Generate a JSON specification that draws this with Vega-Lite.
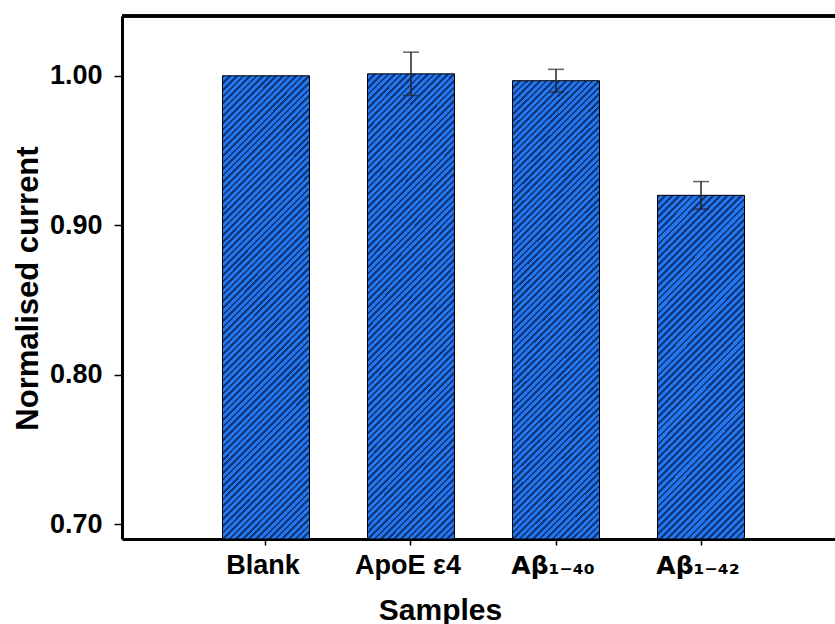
{
  "$schema": "https://vega.github.io/schema/vega-lite/v6.json",
  "width": 713,
  "height": 523,
  "autosize": {"type": "none"},
  "padding": {"left": 122, "top": 16, "right": 0, "bottom": 85},
  "config": {
    "font": "Liberation Sans",
    "view": {"stroke": null},
    "axis": {"grid": false},
    "axisRight": {"domainOpacity": 0, "tickOpacity": 0, "labelOpacity": 0, "titleOpacity": 0, "domain": false, "ticks": false, "labels": false}
  },
  "data": {"values": [
    {"sample": "Blank", "mean": 1.0, "err": 0},
    {"sample": "ApoE ε4", "mean": 1.0013, "err": 0.0145},
    {"sample": "Aβ₁₋₄₀", "mean": 0.9967, "err": 0.0076},
    {"sample": "Aβ₁₋₄₂", "mean": 0.92, "err": 0.0092}
  ]},
  "encoding": {
    "x": {
      "field": "sample", "type": "nominal", "sort": null,
      "scale": {"domain": ["Blank", "ApoE ε4", "Aβ₁₋₄₀", "Aβ₁₋₄₂"], "range": [0, 723], "paddingInner": 0.4, "paddingOuter": 0.693},
      "axis": {
        "domainWidth": 3, "domainColor": "black", "tickColor": "black", "tickWidth": 1.5, "tickSize": 6,
        "labelAngle": 0, "labelFontWeight": "bold", "labelColor": "black",
        "labelFont": {"condition": {"test": "indexof(datum.label, 'β') >= 0", "value": "DejaVu Sans"}, "value": "Liberation Sans"},
        "labelFontSize": {"condition": {"test": "indexof(datum.label, 'β') >= 0", "value": 25}, "value": 27},
        "labelBaseline": "alphabetic", "labelPadding": 28, "labelOffset": -3,
        "title": "Samples", "titleFontSize": 30, "titleFontWeight": "bold", "titleColor": "black",
        "titleX": 318, "titleY": 80, "titleBaseline": "alphabetic"
      }
    },
    "y": {
      "field": "mean", "type": "quantitative",
      "scale": {"domain": [0.69, 1.04], "nice": false, "zero": false},
      "axis": {
        "orient": "left",
        "values": [0.7, 0.8, 0.9, 1.0], "format": ".2f",
        "domainWidth": 3, "domainColor": "black", "tickColor": "black", "tickWidth": 1.5, "tickSize": 8,
        "labelFontSize": 27, "labelFontWeight": "bold", "labelColor": "black", "labelPadding": 12,
        "title": "Normalised current", "titleFontSize": 31, "titleFontWeight": "bold", "titleColor": "black",
        "titleX": -85, "titleY": 272, "titleBaseline": "alphabetic", "titleAngle": -90, "titleAlign": "center"
      }
    }
  },
  "layer": [
    {
      "transform": [{"filter": "datum.sample !== 'Aβ₁₋₄₂'"}],
      "mark": {"type": "bar", "stroke": "black", "strokeWidth": 1,
        "fill": {"gradient": "linear", "x1": 0, "y1": 0, "x2": 0.2161, "y2": 1.1476, "stops": [
{"offset":0,"color":"#137"},{"offset":0.0048,"color":"#137"},{"offset":0.0048,"color":"#27e"},{"offset":0.012,"color":"#27e"},
{"offset":0.012,"color":"#137"},{"offset":0.0168,"color":"#137"},{"offset":0.0168,"color":"#27e"},{"offset":0.024,"color":"#27e"},
{"offset":0.024,"color":"#137"},{"offset":0.0288,"color":"#137"},{"offset":0.0288,"color":"#27e"},{"offset":0.036,"color":"#27e"},
{"offset":0.036,"color":"#137"},{"offset":0.0408,"color":"#137"},{"offset":0.0408,"color":"#27e"},{"offset":0.048,"color":"#27e"},
{"offset":0.048,"color":"#137"},{"offset":0.0528,"color":"#137"},{"offset":0.0528,"color":"#27e"},{"offset":0.06,"color":"#27e"},
{"offset":0.06,"color":"#137"},{"offset":0.0648,"color":"#137"},{"offset":0.0648,"color":"#27e"},{"offset":0.072,"color":"#27e"},
{"offset":0.072,"color":"#137"},{"offset":0.0768,"color":"#137"},{"offset":0.0768,"color":"#27e"},{"offset":0.084,"color":"#27e"},
{"offset":0.084,"color":"#137"},{"offset":0.0888,"color":"#137"},{"offset":0.0888,"color":"#27e"},{"offset":0.096,"color":"#27e"},
{"offset":0.096,"color":"#137"},{"offset":0.1008,"color":"#137"},{"offset":0.1008,"color":"#27e"},{"offset":0.108,"color":"#27e"},
{"offset":0.108,"color":"#137"},{"offset":0.1128,"color":"#137"},{"offset":0.1128,"color":"#27e"},{"offset":0.12,"color":"#27e"},
{"offset":0.12,"color":"#137"},{"offset":0.1248,"color":"#137"},{"offset":0.1248,"color":"#27e"},{"offset":0.132,"color":"#27e"},
{"offset":0.132,"color":"#137"},{"offset":0.1368,"color":"#137"},{"offset":0.1368,"color":"#27e"},{"offset":0.144,"color":"#27e"},
{"offset":0.144,"color":"#137"},{"offset":0.1488,"color":"#137"},{"offset":0.1488,"color":"#27e"},{"offset":0.156,"color":"#27e"},
{"offset":0.156,"color":"#137"},{"offset":0.1608,"color":"#137"},{"offset":0.1608,"color":"#27e"},{"offset":0.168,"color":"#27e"},
{"offset":0.168,"color":"#137"},{"offset":0.1728,"color":"#137"},{"offset":0.1728,"color":"#27e"},{"offset":0.18,"color":"#27e"},
{"offset":0.18,"color":"#137"},{"offset":0.1848,"color":"#137"},{"offset":0.1848,"color":"#27e"},{"offset":0.192,"color":"#27e"},
{"offset":0.192,"color":"#137"},{"offset":0.1968,"color":"#137"},{"offset":0.1968,"color":"#27e"},{"offset":0.204,"color":"#27e"},
{"offset":0.204,"color":"#137"},{"offset":0.2088,"color":"#137"},{"offset":0.2088,"color":"#27e"},{"offset":0.216,"color":"#27e"},
{"offset":0.216,"color":"#137"},{"offset":0.2208,"color":"#137"},{"offset":0.2208,"color":"#27e"},{"offset":0.228,"color":"#27e"},
{"offset":0.228,"color":"#137"},{"offset":0.2328,"color":"#137"},{"offset":0.2328,"color":"#27e"},{"offset":0.24,"color":"#27e"},
{"offset":0.24,"color":"#137"},{"offset":0.2448,"color":"#137"},{"offset":0.2448,"color":"#27e"},{"offset":0.252,"color":"#27e"},
{"offset":0.252,"color":"#137"},{"offset":0.2568,"color":"#137"},{"offset":0.2568,"color":"#27e"},{"offset":0.264,"color":"#27e"},
{"offset":0.264,"color":"#137"},{"offset":0.2688,"color":"#137"},{"offset":0.2688,"color":"#27e"},{"offset":0.276,"color":"#27e"},
{"offset":0.276,"color":"#137"},{"offset":0.2808,"color":"#137"},{"offset":0.2808,"color":"#27e"},{"offset":0.288,"color":"#27e"},
{"offset":0.288,"color":"#137"},{"offset":0.2928,"color":"#137"},{"offset":0.2928,"color":"#27e"},{"offset":0.3,"color":"#27e"},
{"offset":0.3,"color":"#137"},{"offset":0.3048,"color":"#137"},{"offset":0.3048,"color":"#27e"},{"offset":0.312,"color":"#27e"},
{"offset":0.312,"color":"#137"},{"offset":0.3168,"color":"#137"},{"offset":0.3168,"color":"#27e"},{"offset":0.324,"color":"#27e"},
{"offset":0.324,"color":"#137"},{"offset":0.3288,"color":"#137"},{"offset":0.3288,"color":"#27e"},{"offset":0.336,"color":"#27e"},
{"offset":0.336,"color":"#137"},{"offset":0.3408,"color":"#137"},{"offset":0.3408,"color":"#27e"},{"offset":0.348,"color":"#27e"},
{"offset":0.348,"color":"#137"},{"offset":0.3528,"color":"#137"},{"offset":0.3528,"color":"#27e"},{"offset":0.36,"color":"#27e"},
{"offset":0.36,"color":"#137"},{"offset":0.3648,"color":"#137"},{"offset":0.3648,"color":"#27e"},{"offset":0.372,"color":"#27e"},
{"offset":0.372,"color":"#137"},{"offset":0.3768,"color":"#137"},{"offset":0.3768,"color":"#27e"},{"offset":0.384,"color":"#27e"},
{"offset":0.384,"color":"#137"},{"offset":0.3888,"color":"#137"},{"offset":0.3888,"color":"#27e"},{"offset":0.396,"color":"#27e"},
{"offset":0.396,"color":"#137"},{"offset":0.4008,"color":"#137"},{"offset":0.4008,"color":"#27e"},{"offset":0.408,"color":"#27e"},
{"offset":0.408,"color":"#137"},{"offset":0.4128,"color":"#137"},{"offset":0.4128,"color":"#27e"},{"offset":0.42,"color":"#27e"},
{"offset":0.42,"color":"#137"},{"offset":0.4248,"color":"#137"},{"offset":0.4248,"color":"#27e"},{"offset":0.432,"color":"#27e"},
{"offset":0.432,"color":"#137"},{"offset":0.4368,"color":"#137"},{"offset":0.4368,"color":"#27e"},{"offset":0.444,"color":"#27e"},
{"offset":0.444,"color":"#137"},{"offset":0.4488,"color":"#137"},{"offset":0.4488,"color":"#27e"},{"offset":0.456,"color":"#27e"},
{"offset":0.456,"color":"#137"},{"offset":0.4608,"color":"#137"},{"offset":0.4608,"color":"#27e"},{"offset":0.468,"color":"#27e"},
{"offset":0.468,"color":"#137"},{"offset":0.4728,"color":"#137"},{"offset":0.4728,"color":"#27e"},{"offset":0.48,"color":"#27e"},
{"offset":0.48,"color":"#137"},{"offset":0.4848,"color":"#137"},{"offset":0.4848,"color":"#27e"},{"offset":0.492,"color":"#27e"},
{"offset":0.492,"color":"#137"},{"offset":0.4968,"color":"#137"},{"offset":0.4968,"color":"#27e"},{"offset":0.504,"color":"#27e"},
{"offset":0.504,"color":"#137"},{"offset":0.5088,"color":"#137"},{"offset":0.5088,"color":"#27e"},{"offset":0.516,"color":"#27e"},
{"offset":0.516,"color":"#137"},{"offset":0.5208,"color":"#137"},{"offset":0.5208,"color":"#27e"},{"offset":0.528,"color":"#27e"},
{"offset":0.528,"color":"#137"},{"offset":0.5328,"color":"#137"},{"offset":0.5328,"color":"#27e"},{"offset":0.54,"color":"#27e"},
{"offset":0.54,"color":"#137"},{"offset":0.5448,"color":"#137"},{"offset":0.5448,"color":"#27e"},{"offset":0.552,"color":"#27e"},
{"offset":0.552,"color":"#137"},{"offset":0.5568,"color":"#137"},{"offset":0.5568,"color":"#27e"},{"offset":0.564,"color":"#27e"},
{"offset":0.564,"color":"#137"},{"offset":0.5688,"color":"#137"},{"offset":0.5688,"color":"#27e"},{"offset":0.576,"color":"#27e"},
{"offset":0.576,"color":"#137"},{"offset":0.5808,"color":"#137"},{"offset":0.5808,"color":"#27e"},{"offset":0.588,"color":"#27e"},
{"offset":0.588,"color":"#137"},{"offset":0.5928,"color":"#137"},{"offset":0.5928,"color":"#27e"},{"offset":0.6,"color":"#27e"},
{"offset":0.6,"color":"#137"},{"offset":0.6048,"color":"#137"},{"offset":0.6048,"color":"#27e"},{"offset":0.612,"color":"#27e"},
{"offset":0.612,"color":"#137"},{"offset":0.6168,"color":"#137"},{"offset":0.6168,"color":"#27e"},{"offset":0.624,"color":"#27e"},
{"offset":0.624,"color":"#137"},{"offset":0.6288,"color":"#137"},{"offset":0.6288,"color":"#27e"},{"offset":0.636,"color":"#27e"},
{"offset":0.636,"color":"#137"},{"offset":0.6408,"color":"#137"},{"offset":0.6408,"color":"#27e"},{"offset":0.648,"color":"#27e"},
{"offset":0.648,"color":"#137"},{"offset":0.6528,"color":"#137"},{"offset":0.6528,"color":"#27e"},{"offset":0.66,"color":"#27e"},
{"offset":0.66,"color":"#137"},{"offset":0.6648,"color":"#137"},{"offset":0.6648,"color":"#27e"},{"offset":0.672,"color":"#27e"},
{"offset":0.672,"color":"#137"},{"offset":0.6768,"color":"#137"},{"offset":0.6768,"color":"#27e"},{"offset":0.684,"color":"#27e"},
{"offset":0.684,"color":"#137"},{"offset":0.6888,"color":"#137"},{"offset":0.6888,"color":"#27e"},{"offset":0.696,"color":"#27e"},
{"offset":0.696,"color":"#137"},{"offset":0.7008,"color":"#137"},{"offset":0.7008,"color":"#27e"},{"offset":0.708,"color":"#27e"},
{"offset":0.708,"color":"#137"},{"offset":0.7128,"color":"#137"},{"offset":0.7128,"color":"#27e"},{"offset":0.72,"color":"#27e"},
{"offset":0.72,"color":"#137"},{"offset":0.7248,"color":"#137"},{"offset":0.7248,"color":"#27e"},{"offset":0.732,"color":"#27e"},
{"offset":0.732,"color":"#137"},{"offset":0.7368,"color":"#137"},{"offset":0.7368,"color":"#27e"},{"offset":0.744,"color":"#27e"},
{"offset":0.744,"color":"#137"},{"offset":0.7488,"color":"#137"},{"offset":0.7488,"color":"#27e"},{"offset":0.756,"color":"#27e"},
{"offset":0.756,"color":"#137"},{"offset":0.7608,"color":"#137"},{"offset":0.7608,"color":"#27e"},{"offset":0.768,"color":"#27e"},
{"offset":0.768,"color":"#137"},{"offset":0.7728,"color":"#137"},{"offset":0.7728,"color":"#27e"},{"offset":0.78,"color":"#27e"},
{"offset":0.78,"color":"#137"},{"offset":0.7848,"color":"#137"},{"offset":0.7848,"color":"#27e"},{"offset":0.792,"color":"#27e"},
{"offset":0.792,"color":"#137"},{"offset":0.7968,"color":"#137"},{"offset":0.7968,"color":"#27e"},{"offset":0.804,"color":"#27e"},
{"offset":0.804,"color":"#137"},{"offset":0.8088,"color":"#137"},{"offset":0.8088,"color":"#27e"},{"offset":0.816,"color":"#27e"},
{"offset":0.816,"color":"#137"},{"offset":0.8208,"color":"#137"},{"offset":0.8208,"color":"#27e"},{"offset":0.828,"color":"#27e"},
{"offset":0.828,"color":"#137"},{"offset":0.8328,"color":"#137"},{"offset":0.8328,"color":"#27e"},{"offset":0.84,"color":"#27e"},
{"offset":0.84,"color":"#137"},{"offset":0.8448,"color":"#137"},{"offset":0.8448,"color":"#27e"},{"offset":0.852,"color":"#27e"},
{"offset":0.852,"color":"#137"},{"offset":0.8568,"color":"#137"},{"offset":0.8568,"color":"#27e"},{"offset":0.864,"color":"#27e"},
{"offset":0.864,"color":"#137"},{"offset":0.8688,"color":"#137"},{"offset":0.8688,"color":"#27e"},{"offset":0.876,"color":"#27e"},
{"offset":0.876,"color":"#137"},{"offset":0.8808,"color":"#137"},{"offset":0.8808,"color":"#27e"},{"offset":0.888,"color":"#27e"},
{"offset":0.888,"color":"#137"},{"offset":0.8928,"color":"#137"},{"offset":0.8928,"color":"#27e"},{"offset":0.9,"color":"#27e"},
{"offset":0.9,"color":"#137"},{"offset":0.9048,"color":"#137"},{"offset":0.9048,"color":"#27e"},{"offset":0.912,"color":"#27e"},
{"offset":0.912,"color":"#137"},{"offset":0.9168,"color":"#137"},{"offset":0.9168,"color":"#27e"},{"offset":0.924,"color":"#27e"},
{"offset":0.924,"color":"#137"},{"offset":0.9288,"color":"#137"},{"offset":0.9288,"color":"#27e"},{"offset":0.936,"color":"#27e"},
{"offset":0.936,"color":"#137"},{"offset":0.9408,"color":"#137"},{"offset":0.9408,"color":"#27e"},{"offset":0.948,"color":"#27e"},
{"offset":0.948,"color":"#137"},{"offset":0.9528,"color":"#137"},{"offset":0.9528,"color":"#27e"},{"offset":0.96,"color":"#27e"},
{"offset":0.96,"color":"#137"},{"offset":0.9648,"color":"#137"},{"offset":0.9648,"color":"#27e"},{"offset":0.972,"color":"#27e"},
{"offset":0.972,"color":"#137"},{"offset":0.9768,"color":"#137"},{"offset":0.9768,"color":"#27e"},{"offset":0.984,"color":"#27e"},
{"offset":0.984,"color":"#137"},{"offset":0.9888,"color":"#137"},{"offset":0.9888,"color":"#27e"},{"offset":0.996,"color":"#27e"},
{"offset":0.996,"color":"#137"},{"offset":1,"color":"#137"}
        ]}
      },
      "encoding": {"y2": {"datum": 0.69}}
    },
    {
      "transform": [{"filter": "datum.sample === 'Aβ₁₋₄₂'"}],
      "mark": {"type": "bar", "stroke": "black", "strokeWidth": 1,
        "fill": {"gradient": "linear", "x1": 0, "y1": 0, "x2": 0.299, "y2": 1.1779, "stops": [
{"offset":0,"color":"#137"},{"offset":0.0064,"color":"#137"},{"offset":0.0064,"color":"#27e"},{"offset":0.016,"color":"#27e"},
{"offset":0.016,"color":"#137"},{"offset":0.0224,"color":"#137"},{"offset":0.0224,"color":"#27e"},{"offset":0.032,"color":"#27e"},
{"offset":0.032,"color":"#137"},{"offset":0.0384,"color":"#137"},{"offset":0.0384,"color":"#27e"},{"offset":0.048,"color":"#27e"},
{"offset":0.048,"color":"#137"},{"offset":0.0544,"color":"#137"},{"offset":0.0544,"color":"#27e"},{"offset":0.064,"color":"#27e"},
{"offset":0.064,"color":"#137"},{"offset":0.0704,"color":"#137"},{"offset":0.0704,"color":"#27e"},{"offset":0.08,"color":"#27e"},
{"offset":0.08,"color":"#137"},{"offset":0.0864,"color":"#137"},{"offset":0.0864,"color":"#27e"},{"offset":0.096,"color":"#27e"},
{"offset":0.096,"color":"#137"},{"offset":0.1024,"color":"#137"},{"offset":0.1024,"color":"#27e"},{"offset":0.112,"color":"#27e"},
{"offset":0.112,"color":"#137"},{"offset":0.1184,"color":"#137"},{"offset":0.1184,"color":"#27e"},{"offset":0.128,"color":"#27e"},
{"offset":0.128,"color":"#137"},{"offset":0.1344,"color":"#137"},{"offset":0.1344,"color":"#27e"},{"offset":0.144,"color":"#27e"},
{"offset":0.144,"color":"#137"},{"offset":0.1504,"color":"#137"},{"offset":0.1504,"color":"#27e"},{"offset":0.16,"color":"#27e"},
{"offset":0.16,"color":"#137"},{"offset":0.1664,"color":"#137"},{"offset":0.1664,"color":"#27e"},{"offset":0.176,"color":"#27e"},
{"offset":0.176,"color":"#137"},{"offset":0.1824,"color":"#137"},{"offset":0.1824,"color":"#27e"},{"offset":0.192,"color":"#27e"},
{"offset":0.192,"color":"#137"},{"offset":0.1984,"color":"#137"},{"offset":0.1984,"color":"#27e"},{"offset":0.208,"color":"#27e"},
{"offset":0.208,"color":"#137"},{"offset":0.2144,"color":"#137"},{"offset":0.2144,"color":"#27e"},{"offset":0.224,"color":"#27e"},
{"offset":0.224,"color":"#137"},{"offset":0.2304,"color":"#137"},{"offset":0.2304,"color":"#27e"},{"offset":0.24,"color":"#27e"},
{"offset":0.24,"color":"#137"},{"offset":0.2464,"color":"#137"},{"offset":0.2464,"color":"#27e"},{"offset":0.256,"color":"#27e"},
{"offset":0.256,"color":"#137"},{"offset":0.2624,"color":"#137"},{"offset":0.2624,"color":"#27e"},{"offset":0.272,"color":"#27e"},
{"offset":0.272,"color":"#137"},{"offset":0.2784,"color":"#137"},{"offset":0.2784,"color":"#27e"},{"offset":0.288,"color":"#27e"},
{"offset":0.288,"color":"#137"},{"offset":0.2944,"color":"#137"},{"offset":0.2944,"color":"#27e"},{"offset":0.304,"color":"#27e"},
{"offset":0.304,"color":"#137"},{"offset":0.3104,"color":"#137"},{"offset":0.3104,"color":"#27e"},{"offset":0.32,"color":"#27e"},
{"offset":0.32,"color":"#137"},{"offset":0.3264,"color":"#137"},{"offset":0.3264,"color":"#27e"},{"offset":0.336,"color":"#27e"},
{"offset":0.336,"color":"#137"},{"offset":0.3424,"color":"#137"},{"offset":0.3424,"color":"#27e"},{"offset":0.352,"color":"#27e"},
{"offset":0.352,"color":"#137"},{"offset":0.3584,"color":"#137"},{"offset":0.3584,"color":"#27e"},{"offset":0.368,"color":"#27e"},
{"offset":0.368,"color":"#137"},{"offset":0.3744,"color":"#137"},{"offset":0.3744,"color":"#27e"},{"offset":0.384,"color":"#27e"},
{"offset":0.384,"color":"#137"},{"offset":0.3904,"color":"#137"},{"offset":0.3904,"color":"#27e"},{"offset":0.4,"color":"#27e"},
{"offset":0.4,"color":"#137"},{"offset":0.4064,"color":"#137"},{"offset":0.4064,"color":"#27e"},{"offset":0.416,"color":"#27e"},
{"offset":0.416,"color":"#137"},{"offset":0.4224,"color":"#137"},{"offset":0.4224,"color":"#27e"},{"offset":0.432,"color":"#27e"},
{"offset":0.432,"color":"#137"},{"offset":0.4384,"color":"#137"},{"offset":0.4384,"color":"#27e"},{"offset":0.448,"color":"#27e"},
{"offset":0.448,"color":"#137"},{"offset":0.4544,"color":"#137"},{"offset":0.4544,"color":"#27e"},{"offset":0.464,"color":"#27e"},
{"offset":0.464,"color":"#137"},{"offset":0.4704,"color":"#137"},{"offset":0.4704,"color":"#27e"},{"offset":0.48,"color":"#27e"},
{"offset":0.48,"color":"#137"},{"offset":0.4864,"color":"#137"},{"offset":0.4864,"color":"#27e"},{"offset":0.496,"color":"#27e"},
{"offset":0.496,"color":"#137"},{"offset":0.5024,"color":"#137"},{"offset":0.5024,"color":"#27e"},{"offset":0.512,"color":"#27e"},
{"offset":0.512,"color":"#137"},{"offset":0.5184,"color":"#137"},{"offset":0.5184,"color":"#27e"},{"offset":0.528,"color":"#27e"},
{"offset":0.528,"color":"#137"},{"offset":0.5344,"color":"#137"},{"offset":0.5344,"color":"#27e"},{"offset":0.544,"color":"#27e"},
{"offset":0.544,"color":"#137"},{"offset":0.5504,"color":"#137"},{"offset":0.5504,"color":"#27e"},{"offset":0.56,"color":"#27e"},
{"offset":0.56,"color":"#137"},{"offset":0.5664,"color":"#137"},{"offset":0.5664,"color":"#27e"},{"offset":0.576,"color":"#27e"},
{"offset":0.576,"color":"#137"},{"offset":0.5824,"color":"#137"},{"offset":0.5824,"color":"#27e"},{"offset":0.592,"color":"#27e"},
{"offset":0.592,"color":"#137"},{"offset":0.5984,"color":"#137"},{"offset":0.5984,"color":"#27e"},{"offset":0.608,"color":"#27e"},
{"offset":0.608,"color":"#137"},{"offset":0.6144,"color":"#137"},{"offset":0.6144,"color":"#27e"},{"offset":0.624,"color":"#27e"},
{"offset":0.624,"color":"#137"},{"offset":0.6304,"color":"#137"},{"offset":0.6304,"color":"#27e"},{"offset":0.64,"color":"#27e"},
{"offset":0.64,"color":"#137"},{"offset":0.6464,"color":"#137"},{"offset":0.6464,"color":"#27e"},{"offset":0.656,"color":"#27e"},
{"offset":0.656,"color":"#137"},{"offset":0.6624,"color":"#137"},{"offset":0.6624,"color":"#27e"},{"offset":0.672,"color":"#27e"},
{"offset":0.672,"color":"#137"},{"offset":0.6784,"color":"#137"},{"offset":0.6784,"color":"#27e"},{"offset":0.688,"color":"#27e"},
{"offset":0.688,"color":"#137"},{"offset":0.6944,"color":"#137"},{"offset":0.6944,"color":"#27e"},{"offset":0.704,"color":"#27e"},
{"offset":0.704,"color":"#137"},{"offset":0.7104,"color":"#137"},{"offset":0.7104,"color":"#27e"},{"offset":0.72,"color":"#27e"},
{"offset":0.72,"color":"#137"},{"offset":0.7264,"color":"#137"},{"offset":0.7264,"color":"#27e"},{"offset":0.736,"color":"#27e"},
{"offset":0.736,"color":"#137"},{"offset":0.7424,"color":"#137"},{"offset":0.7424,"color":"#27e"},{"offset":0.752,"color":"#27e"},
{"offset":0.752,"color":"#137"},{"offset":0.7584,"color":"#137"},{"offset":0.7584,"color":"#27e"},{"offset":0.768,"color":"#27e"},
{"offset":0.768,"color":"#137"},{"offset":0.7744,"color":"#137"},{"offset":0.7744,"color":"#27e"},{"offset":0.784,"color":"#27e"},
{"offset":0.784,"color":"#137"},{"offset":0.7904,"color":"#137"},{"offset":0.7904,"color":"#27e"},{"offset":0.8,"color":"#27e"},
{"offset":0.8,"color":"#137"},{"offset":0.8064,"color":"#137"},{"offset":0.8064,"color":"#27e"},{"offset":0.816,"color":"#27e"},
{"offset":0.816,"color":"#137"},{"offset":0.8224,"color":"#137"},{"offset":0.8224,"color":"#27e"},{"offset":0.832,"color":"#27e"},
{"offset":0.832,"color":"#137"},{"offset":0.8384,"color":"#137"},{"offset":0.8384,"color":"#27e"},{"offset":0.848,"color":"#27e"},
{"offset":0.848,"color":"#137"},{"offset":0.8544,"color":"#137"},{"offset":0.8544,"color":"#27e"},{"offset":0.864,"color":"#27e"},
{"offset":0.864,"color":"#137"},{"offset":0.8704,"color":"#137"},{"offset":0.8704,"color":"#27e"},{"offset":0.88,"color":"#27e"},
{"offset":0.88,"color":"#137"},{"offset":0.8864,"color":"#137"},{"offset":0.8864,"color":"#27e"},{"offset":0.896,"color":"#27e"},
{"offset":0.896,"color":"#137"},{"offset":0.9024,"color":"#137"},{"offset":0.9024,"color":"#27e"},{"offset":0.912,"color":"#27e"},
{"offset":0.912,"color":"#137"},{"offset":0.9184,"color":"#137"},{"offset":0.9184,"color":"#27e"},{"offset":0.928,"color":"#27e"},
{"offset":0.928,"color":"#137"},{"offset":0.9344,"color":"#137"},{"offset":0.9344,"color":"#27e"},{"offset":0.944,"color":"#27e"},
{"offset":0.944,"color":"#137"},{"offset":0.9504,"color":"#137"},{"offset":0.9504,"color":"#27e"},{"offset":0.96,"color":"#27e"},
{"offset":0.96,"color":"#137"},{"offset":0.9664,"color":"#137"},{"offset":0.9664,"color":"#27e"},{"offset":0.976,"color":"#27e"},
{"offset":0.976,"color":"#137"},{"offset":0.9824,"color":"#137"},{"offset":0.9824,"color":"#27e"},{"offset":0.992,"color":"#27e"},
{"offset":0.992,"color":"#137"},{"offset":0.9984,"color":"#137"},{"offset":0.9984,"color":"#27e"},{"offset":1,"color":"#27e"}
        ]}
      },
      "encoding": {"y2": {"datum": 0.69}}
    },
    {
      "transform": [{"filter": "datum.err > 0"}],
      "mark": {"type": "errorbar", "ticks": true, "size": 16, "thickness": 1.5, "color": "#222222"},
      "encoding": {
        "yError": {"field": "err"}
      }
    },
    {
      "mark": {"type": "rule", "strokeWidth": 3, "color": "black"},
      "encoding": {"x": null, "y": {"datum": 1.04}}
    }
  ]
}
